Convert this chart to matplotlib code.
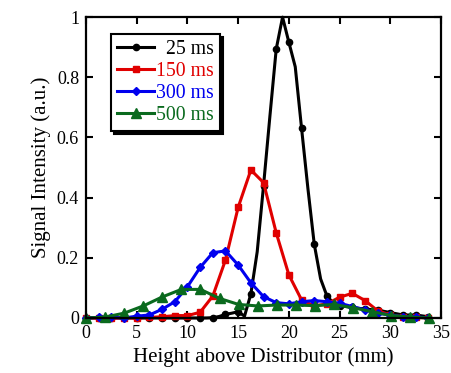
import matplotlib.pyplot as plt

# Höhe über dem Verteiler (mm)
x_25 = [0, 0.625, 1.25, 1.875, 2.5, 3.125, 3.75, 4.375, 5.0, 5.625, 6.25, 6.875,
        7.5, 8.125, 8.75, 9.375, 10.0, 10.625, 11.25, 11.875, 12.5, 13.125, 13.75,
        14.375, 15.0, 15.625, 16.25, 16.875, 17.5, 18.125, 18.75, 19.375, 20.0,
        20.625, 21.25, 21.875, 22.5, 23.125, 23.75, 24.375, 25.0, 25.625, 26.25,
        26.875, 27.5, 28.125, 28.75, 29.375, 30.0, 30.625, 31.25, 31.875, 32.5,
        33.125, 33.75]
y_25 = [0, 0, 0, 0, 0, 0, 0, 0, 0, 0, 0, 0,
        0, 0, 0, 0, 0, 0, 0, 0, 0.001, 0.005, 0.012,
        0.016, 0.021, 0.006, 0.08, 0.22, 0.44, 0.67, 0.894, 1.0, 0.916,
        0.835, 0.63, 0.43, 0.245, 0.13, 0.073, 0.05, 0.04, 0.038, 0.035,
        0.032, 0.03, 0.028, 0.027, 0.022, 0.018, 0.014, 0.01, 0.01, 0.01,
        0.007, 0.004]

x_150 = [0, 1.25, 2.5, 3.75, 5.0, 6.25, 7.5, 8.75, 10.0, 11.25, 12.5, 13.75, 15.0,
         16.25, 17.5, 18.75, 20.0, 21.25, 22.5, 23.75, 25.0, 26.25, 27.5, 28.75,
         30.0, 31.25, 32.5, 33.75]
y_150 = [0, 0, 0, 0, 0, 0.002, 0.004, 0.008, 0.008, 0.019, 0.073, 0.193, 0.368,
         0.492, 0.45, 0.283, 0.143, 0.06, 0.04, 0.047, 0.069, 0.082, 0.058, 0.024,
         0.01, 0.004, 0.002, 0]

x_300 = x_150
y_300 = [0, 0.002, 0.002, 0, 0.006, 0.01, 0.029, 0.054, 0.104, 0.168, 0.217, 0.223,
         0.176, 0.117, 0.071, 0.051, 0.047, 0.054, 0.058, 0.054, 0.049, 0.038,
         0.027, 0.016, 0.01, 0.004, 0.004, 0]

x_500 = [0, 1.88, 3.76, 5.64, 7.52, 9.4, 11.28, 13.16, 15.04, 16.92, 18.8, 20.68,
         22.56, 24.44, 26.32, 28.2, 30.08, 31.96, 33.84]
y_500 = [0, 0.003, 0.016, 0.04, 0.07, 0.095, 0.095, 0.065, 0.045, 0.04, 0.043,
         0.043, 0.041, 0.045, 0.034, 0.021, 0.008, 0.003, 0]

labels = ['  25 ms', '150 ms', '300 ms', '500 ms']
colors = ['black', '#e00000', '#0000ee', '#0a6a1e']

plt.rcParams['font.family'] = ['Liberation Serif', 'DejaVu Serif']

fig = plt.figure(figsize=(4.51, 3.73), dpi=100)
ax = fig.add_axes([0.1907, 0.1475, 0.7873, 0.8065])

lw = 2.2
ax.plot(x_25, y_25, color=colors[0], lw=lw, marker='o', ms=4.5, markevery=2,
        label=labels[0], clip_on=False)
ax.plot(x_150, y_150, color=colors[1], lw=lw, marker='s', ms=5,
        label=labels[1], clip_on=False)
ax.plot(x_300, y_300, color=colors[2], lw=lw, marker='D', ms=4.5,
        label=labels[2], clip_on=False)
ax.plot(x_500, y_500, color=colors[3], lw=lw, marker='^', ms=6.5,
        label=labels[3], clip_on=False)

ax.set_xlim(0, 35)
ax.set_ylim(0, 1)
ax.set_xticks(range(0, 36, 5))
ax.set_yticks([0, 0.2, 0.4, 0.6, 0.8, 1])
ax.set_yticklabels(['0', '0.2', '0.4', '0.6', '0.8', '1'])
ax.tick_params(direction='in', top=True, right=True, length=5, width=1.5,
               labelsize=13, pad=5)
for s in ax.spines.values():
    s.set_linewidth(1.6)

ax.set_xlabel('Height above Distributor (mm)', fontsize=15, labelpad=4)
ax.set_ylabel('Signal Intensity (a.u.)', fontsize=15, labelpad=4)

leg = ax.legend(loc='upper left', bbox_to_anchor=(0.07, 0.943), borderaxespad=0,
                fontsize=14.2, handlelength=1.9, handletextpad=0.1,
                labelspacing=0.15, borderpad=0.3, fancybox=False,
                shadow={'color': 'black', 'alpha': 1}, framealpha=1)
leg.get_frame().set_edgecolor('black')
leg.get_frame().set_linewidth(1.5)
for t, c in zip(leg.get_texts(), colors):
    t.set_color(c)

fig.savefig('out.png', dpi=100)
